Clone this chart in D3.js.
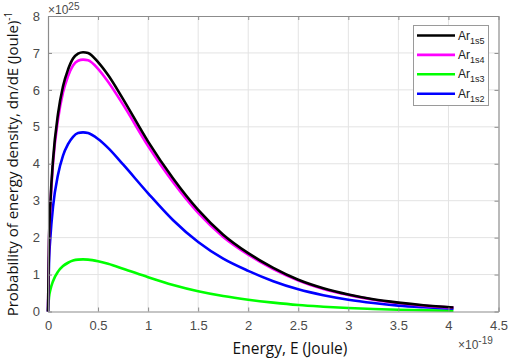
<!DOCTYPE html>
<html><head><meta charset="utf-8">
<script src="https://cdn.jsdelivr.net/npm/d3@7"></script>
<style>body{margin:0;background:#fff}svg{display:block}</style>
</head><body>
<script>
const energy = [0, 0.01, 0.025, 0.05, 0.1, 0.15, 0.2, 0.25, 0.3, 0.35, 0.4, 0.5, 0.6, 0.75, 1.0, 1.25, 1.5, 1.75, 2.0, 2.25, 2.5, 2.75, 3.0, 3.25, 3.5, 3.75, 4.05];
const ar1s5 = [0, 1.9, 3.0, 4.1, 5.35, 6.1, 6.55, 6.85, 6.98, 7.02, 7.0, 6.75, 6.4, 5.75, 4.6, 3.6, 2.75, 2.08, 1.58, 1.18, 0.86, 0.63, 0.46, 0.33, 0.24, 0.17, 0.11];
const ar1s4 = [0, 1.85, 2.9, 4.0, 5.2, 5.93, 6.37, 6.66, 6.79, 6.82, 6.8, 6.57, 6.22, 5.6, 4.48, 3.5, 2.67, 2.02, 1.54, 1.15, 0.84, 0.61, 0.45, 0.32, 0.23, 0.16, 0.105];
const ar1s3 = [0, 0.38, 0.6, 0.82, 1.08, 1.23, 1.32, 1.38, 1.405, 1.41, 1.405, 1.36, 1.29, 1.16, 0.93, 0.72, 0.55, 0.42, 0.32, 0.24, 0.175, 0.13, 0.093, 0.067, 0.047, 0.034, 0.022];
const ar1s2 = [0, 1.3, 2.05, 2.83, 3.7, 4.22, 4.53, 4.73, 4.83, 4.85, 4.83, 4.67, 4.43, 3.98, 3.2, 2.47, 1.88, 1.43, 1.1, 0.82, 0.6, 0.44, 0.32, 0.23, 0.16, 0.115, 0.075];
const seriesNames = ["1s5", "1s4", "1s3", "1s2"];
const seriesColors = ["#000000", "#ff00ff", "#00ff00", "#0000ff"];
const xTicks = [0, 0.5, 1, 1.5, 2, 2.5, 3, 3.5, 4, 4.5];
const yTicks = [0, 1, 2, 3, 4, 5, 6, 7, 8];

const W = 508, H = 359;
const m = {l: 48, r: 10, t: 16, b: 47};
const svg = d3.select("body").append("svg").attr("width", W).attr("height", H);
const x = d3.scaleLinear().domain([0, 4.5]).range([m.l, 498.5]);
const y = d3.scaleLinear().domain([0, 8]).range([311.5, m.t]);
const axisCol = "#8c8c8c", txtCol = "#4a4a4a";

// grid
const g = svg.append("g");
g.selectAll(".gx").data(xTicks.slice(1, -1)).join("line")
  .attr("x1", d => x(d)).attr("x2", d => x(d)).attr("y1", y(0)).attr("y2", y(8))
  .attr("stroke", "#e3e3e3").attr("stroke-width", 1);
g.selectAll(".gy").data(yTicks.slice(1, -1)).join("line")
  .attr("y1", d => y(d)).attr("y2", d => y(d)).attr("x1", x(0)).attr("x2", x(4.5))
  .attr("stroke", "#e3e3e3").attr("stroke-width", 1);

// lines
const series = [ar1s5, ar1s4, ar1s3, ar1s2];
const line = d3.line().x(d => x(d[0])).y(d => y(d[1])).curve(d3.curveMonotoneX);
[2, 3, 1, 0].forEach(i => {
  svg.append("path").datum(energy.map((e, k) => [e, series[i][k]]))
    .attr("d", line).attr("fill", "none").attr("stroke", seriesColors[i])
    .attr("stroke-width", 2.6).attr("stroke-linejoin", "round");
});

// axes
const fontTicks = "'Liberation Sans', Arial, sans-serif";
const xa = svg.append("g").attr("transform", `translate(0,${y(0)})`)
  .call(d3.axisBottom(x).tickValues(xTicks).tickSizeInner(-4).tickSizeOuter(0).tickPadding(9).tickFormat(d3.format("")));
const ya = svg.append("g").attr("transform", `translate(${x(0)},0)`)
  .call(d3.axisLeft(y).tickValues(yTicks).tickSizeInner(-4).tickSizeOuter(0).tickPadding(8).tickFormat(d3.format("d")));
const xt = svg.append("g").attr("transform", `translate(0,${y(8)})`)
  .call(d3.axisTop(x).tickValues(xTicks).tickSizeInner(-4).tickSizeOuter(0).tickFormat(""));
const yr = svg.append("g").attr("transform", `translate(${x(4.5)},0)`)
  .call(d3.axisRight(y).tickValues(yTicks).tickSizeInner(-4).tickSizeOuter(0).tickFormat(""));
[xa, ya, xt, yr].forEach(a => {
  a.select(".domain").attr("stroke", axisCol).attr("stroke-width", 1.2);
  a.selectAll(".tick line").attr("stroke", axisCol);
  a.selectAll("text").attr("fill", txtCol).style("font-family", fontTicks).style("font-size", "13px");
});

// exponent labels
const ex1 = svg.append("text").attr("x", x(0)).attr("y", 14).attr("fill", txtCol)
  .style("font-family", fontTicks).style("font-size", "12px");
ex1.append("tspan").text("×10");
ex1.append("tspan").attr("dy", -4).style("font-size", "10px").text("25");
const ex2 = svg.append("text").attr("x", 458).attr("y", 349).attr("fill", txtCol)
  .style("font-family", fontTicks).style("font-size", "12px");
ex2.append("tspan").text("×10");
ex2.append("tspan").attr("dy", -5).style("font-size", "10px").text("-19");

// axis titles
const fontLab = "'Open Sans', 'Noto Sans', sans-serif";
svg.append("text").attr("x", 290).attr("y", 354).attr("text-anchor", "middle")
  .style("font-family", fontLab).style("font-size", "15.5px").attr("fill", "#111")
  .text("Energy, E (Joule)");
const yl = svg.append("text").attr("transform", `translate(18,${164}) rotate(-90)`).attr("text-anchor", "middle")
  .style("font-family", fontLab).style("font-size", "15px").attr("fill", "#111");
yl.append("tspan").text("Probability of energy density, dn/dE (Joule)");
yl.append("tspan").attr("dy", -6).style("font-size", "10px").text("-1");

// legend
const lg = svg.append("g");
lg.append("rect").attr("x", 413.5).attr("y", 25.5).attr("width", 75).attr("height", 80)
  .attr("fill", "#fff").attr("stroke", "#9a9a9a").attr("stroke-width", 1);
seriesNames.forEach((n, i) => {
  const yy = 35.5 + i * 19.4;
  lg.append("line").attr("x1", 417).attr("x2", 455).attr("y1", yy).attr("y2", yy)
    .attr("stroke", seriesColors[i]).attr("stroke-width", 2.6);
  const t = lg.append("text").attr("x", 458).attr("y", yy + 4).attr("fill", "#222")
    .style("font-family", fontTicks).style("font-size", "12px");
  t.append("tspan").text("Ar");
  t.append("tspan").attr("dy", 4).style("font-size", "9px").text(n);
});
</script>
</body></html>
